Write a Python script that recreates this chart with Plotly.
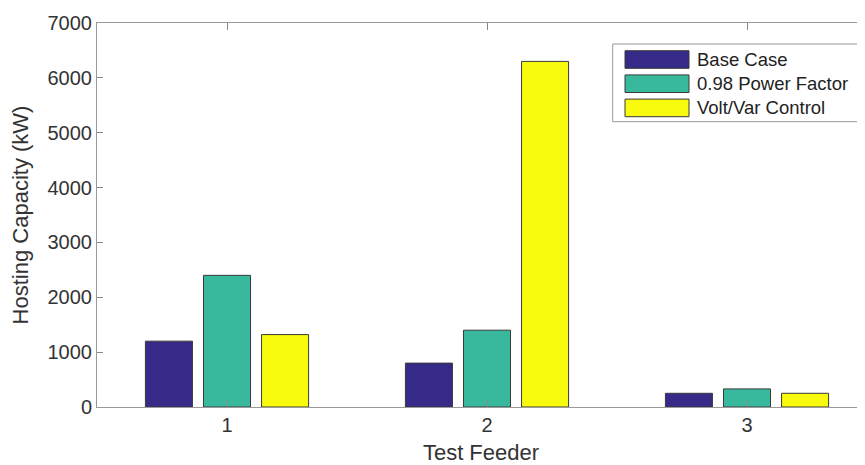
import plotly.graph_objects as go

feeders = [1, 2, 3]
tick_labels = ["1", "2", "3"]
base_case = [1200, 800, 250]
power_factor = [2400, 1400, 330]
volt_var = [1320, 6300, 250]
y_ticks = [0, 1000, 2000, 3000, 4000, 5000, 6000, 7000]

series_names = ["Base Case", "0.98 Power Factor", "Volt/Var Control"]
series_values = [base_case, power_factor, volt_var]
series_colors = ["#352a87", "#38b99e", "#f9fb0e"]

FONT = "Liberation Sans, Arial, Helvetica, sans-serif"
EDGE = "#3a3a3a"
fig = go.Figure()
for name, vals, col in zip(series_names, series_values, series_colors):
    fig.add_trace(go.Bar(
        x=feeders, y=vals, name=name, showlegend=False,
        marker=dict(color=col, line=dict(color=EDGE, width=1)),
    ))

# page body has an 8px default margin, so the figure is drawn offset by (8, 8)
OFF = 8
W, H = 857, 457
ml, mr, mt, mb = 89, 0, 15, 58
plot_w = W - ml - mr
plot_h = H - mt - mb

def px(x):
    return (x - OFF - ml) / plot_w

def py(y):
    return (H - mb - (y - OFF)) / plot_h

# MATLAB-style legend box (drawn in paper coordinates)
shapes = [dict(type="rect", xref="paper", yref="paper",
               x0=px(612.7), x1=px(858), y0=py(121.7), y1=py(44),
               line=dict(color="#999999", width=1), fillcolor="white", layer="above")]
annotations = []
for i, (name, col) in enumerate(zip(series_names, series_colors)):
    cy = 59.5 + 24.2 * i
    shapes.append(dict(type="rect", xref="paper", yref="paper",
                       x0=px(625), x1=px(689), y0=py(cy + 8.8), y1=py(cy - 8.8),
                       line=dict(color=EDGE, width=1), fillcolor=col, layer="above"))
    annotations.append(dict(xref="paper", yref="paper", x=px(695), y=py(cy),
                            xanchor="left", yanchor="middle", showarrow=False,
                            text=name, font=dict(family=FONT, size=18.5, color="#222222")))

fig.update_layout(
    width=W, height=H,
    margin=dict(l=ml, r=mr, t=mt, b=mb, pad=0, autoexpand=False),
    paper_bgcolor="white", plot_bgcolor="white",
    barmode="group", bargap=0.33, bargroupgap=0.19,
    font=dict(family=FONT, size=20, color="#333333"),
    showlegend=False,
    shapes=shapes, annotations=annotations,
    xaxis=dict(
        range=[0.5, 0.5 + plot_w / 260.0],
        tickmode="array", tickvals=feeders, ticktext=tick_labels,
        ticks="inside", ticklen=7, tickcolor="#888888",
        showline=True, linecolor="#999999", linewidth=1, mirror="ticks",
        showgrid=False, zeroline=False, automargin=False,
        title=dict(text="Test Feeder", font=dict(size=22), standoff=11),
        tickfont=dict(size=20),
    ),
    yaxis=dict(
        range=[0, 7000],
        tickmode="array", tickvals=y_ticks,
        ticks="inside", ticklen=6, tickcolor="#888888",
        showline=True, linecolor="#999999", linewidth=1,
        showgrid=False, zeroline=False, automargin=False,
        title=dict(text="Hosting Capacity (kW)", font=dict(size=22), standoff=12),
        tickfont=dict(size=20),
    ),
)

fig.write_html("out.html")
